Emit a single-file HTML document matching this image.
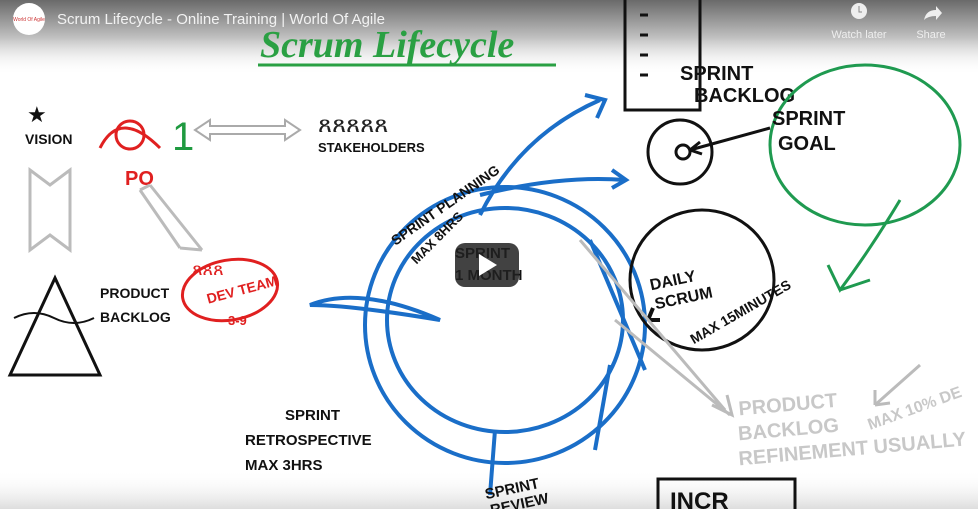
<!DOCTYPE html>
<html><head><style>
html,body{margin:0;padding:0;width:978px;height:509px;overflow:hidden;background:#fff}
svg{display:block}
.h{font-family:"Liberation Sans",sans-serif;font-weight:bold}
</style></head><body>
<svg width="978" height="509" viewBox="0 0 978 509" xmlns="http://www.w3.org/2000/svg">
<defs>
<linearGradient id="tg" x1="0" y1="0" x2="0" y2="1"><stop offset="0" stop-color="#6a6a6a"/><stop offset="0.5" stop-color="#c0c0c0"/><stop offset="1" stop-color="#fff" stop-opacity="0"/></linearGradient>
<linearGradient id="bg" x1="0" y1="0" x2="0" y2="1"><stop offset="0" stop-color="#fff" stop-opacity="0"/><stop offset="1" stop-color="#ddd"/></linearGradient>
</defs>
<rect width="978" height="509" fill="#fff"/>
<rect width="978" height="75" fill="url(#tg)"/>
<rect y="470" width="978" height="39" fill="url(#bg)"/>
<circle cx="29" cy="19" r="16" fill="#fff"/>
<text x="29" y="21" font-size="5" fill="#c33" text-anchor="middle" font-family="Liberation Sans">World Of Agile</text>
<text x="57" y="24" font-size="15" fill="#f2f2f2" font-family="Liberation Sans,sans-serif">Scrum Lifecycle - Online Training | World Of Agile</text>
<circle cx="859" cy="11" r="8" fill="#eee"/><path d="M859 6v6h3" stroke="#888" fill="none"/>
<text x="859" y="38" font-size="11" fill="#eee" text-anchor="middle" font-family="Liberation Sans">Watch later</text>
<path d="M924 20q2-10 12-10v-4l6 7-6 7v-4q-8 0-12 4z" fill="#eee"/>
<text x="931" y="38" font-size="11" fill="#eee" text-anchor="middle" font-family="Liberation Sans">Share</text>
<text x="260" y="57" font-size="38" fill="#2aa043" font-style="italic" font-weight="bold" font-family="Liberation Serif,serif">Scrum Lifecycle</text>
<line x1="258" y1="65" x2="556" y2="65" stroke="#2aa043" stroke-width="3"/>
<text x="27" y="122" font-size="22" fill="#111">★</text>
<text x="25" y="144" font-size="14" class="h" fill="#111">VISION</text>
<circle cx="130" cy="135" r="14" fill="none" stroke="#e02020" stroke-width="3"/>
<path d="M100 148q20-40 60 0" fill="none" stroke="#e02020" stroke-width="3"/>
<text x="172" y="150" font-size="40" fill="#1f9a40" font-family="Liberation Sans">1</text>
<text x="125" y="185" font-size="20" class="h" fill="#e02020">PO</text>
<path d="M195 130l15-10v6h75v-6l15 10-15 10v-6h-75v6z" fill="none" stroke="#aaa" stroke-width="2"/>
<text x="318" y="132" font-size="24" fill="#222" font-family="Liberation Sans">ጸጸጸጸጸ</text>
<text x="318" y="152" font-size="13" class="h" fill="#111">STAKEHOLDERS</text>
<path d="M30 170l20 15 20-15v80l-20-15-20 15z" fill="none" stroke="#bbb" stroke-width="3"/>
<path d="M10 375L55 278L100 375z" fill="none" stroke="#111" stroke-width="3"/>
<path d="M14 318q20-10 40 0t40 0" fill="none" stroke="#111" stroke-width="2"/>
<text x="100" y="298" font-size="14" class="h" fill="#111">PRODUCT</text>
<text x="100" y="322" font-size="14" class="h" fill="#111">BACKLOG</text>
<path d="M140 190l40 58M150 185l52 65M140 190l10-5M202 250l-22-2" fill="none" stroke="#bbb" stroke-width="3"/>
<ellipse cx="230" cy="290" rx="48" ry="30" fill="none" stroke="#e02020" stroke-width="3" transform="rotate(-10 230 290)"/>
<text x="192" y="275" font-size="18" fill="#e02020" font-family="Liberation Sans">ጸጸጸ</text>
<text x="208" y="298" font-size="14" class="h" fill="#e02020" transform="rotate(-15 230 300)">DEV TEAM</text>
<text x="228" y="325" font-size="13" class="h" fill="#e02020">3-9</text>
<g fill="none" stroke="#1a6ec8" stroke-width="4">
<ellipse cx="505" cy="325" rx="140" ry="138"/>
<ellipse cx="505" cy="320" rx="118" ry="112"/>
<path d="M480 215q40-80 120-115"/>
<path d="M585 95l20 5-8 18"/>
<path d="M480 195q80-20 145-15"/>
<path d="M612 170l14 10-14 8"/>
<path d="M440 320q-80-35-130-15 40 0 130 15z"/>
<path d="M590 240l55 130M610 365l-15 85M495 430l-5 65"/>
</g>
<text x="370" y="235" font-size="14" class="h" fill="#111" transform="rotate(-35 400 200)">SPRINT PLANNING</text>
<text x="400" y="255" font-size="13" class="h" fill="#111" transform="rotate(-45 420 240)">MAX 8HRS</text>
<text x="455" y="258" font-size="15" class="h" fill="#111">SPRINT</text>
<text x="455" y="280" font-size="15" class="h" fill="#111">1 MONTH</text>
<rect x="455" y="243" width="64" height="44" rx="10" fill="#212121" opacity="0.85"/>
<path d="M479 254l18 11-18 11z" fill="#fff"/>
<g stroke="#111" stroke-width="3" fill="none">
<path d="M625 0v110h75V0"/>
<path d="M640 15h8M640 35h8M640 55h8M640 75h8"/>
<circle cx="680" cy="152" r="32"/><circle cx="683" cy="152" r="7"/>
<path d="M690 150l80-22M690 150l10-8M690 150l12 4"/>
</g>
<text x="680" y="80" font-size="20" class="h" fill="#111">SPRINT</text>
<text x="694" y="102" font-size="20" class="h" fill="#111">BACKLOG</text>
<ellipse cx="865" cy="145" rx="95" ry="80" fill="none" stroke="#1f9a50" stroke-width="3"/>
<path d="M900 200q-30 50-60 90l-12-25M840 290l30-10" fill="none" stroke="#1f9a50" stroke-width="3"/>
<text x="772" y="125" font-size="20" class="h" fill="#111">SPRINT</text>
<text x="778" y="150" font-size="20" class="h" fill="#111">GOAL</text>
<ellipse cx="702" cy="280" rx="72" ry="70" fill="none" stroke="#111" stroke-width="3"/>
<path d="M648 320l12 0M648 320l5-12" stroke="#111" stroke-width="4"/>
<text x="650" y="280" font-size="16" class="h" fill="#111" transform="rotate(-12 700 280)">DAILY</text>
<text x="655" y="300" font-size="16" class="h" fill="#111" transform="rotate(-12 700 300)">SCRUM</text>
<text x="685" y="328" font-size="14" class="h" fill="#111" transform="rotate(-30 720 320)">MAX 15MINUTES</text>
<g stroke="#bbb" stroke-width="3" fill="none">
<path d="M580 240l145 170M615 320l115 95M712 405l20 10-5-20"/>
<path d="M920 365l-45 40M875 405l0-15M875 405l15-2"/>
</g>
<text x="738" y="410" font-size="20" class="h" fill="#c8c8c8" transform="rotate(-5 800 400)">PRODUCT</text>
<text x="738" y="435" font-size="20" class="h" fill="#c8c8c8" transform="rotate(-5 800 430)">BACKLOG</text>
<text x="738" y="460" font-size="20" class="h" fill="#c8c8c8" transform="rotate(-5 800 450)">REFINEMENT USUALLY</text>
<text x="870" y="430" font-size="16" class="h" fill="#c8c8c8" transform="rotate(-20 870 430)">MAX 10% DE</text>
<text x="285" y="420" font-size="15" class="h" fill="#111">SPRINT</text>
<text x="245" y="445" font-size="15" class="h" fill="#111">RETROSPECTIVE</text>
<text x="245" y="470" font-size="15" class="h" fill="#111">MAX 3HRS</text>
<text x="485" y="492" font-size="15" class="h" fill="#111" transform="rotate(-12 520 490)">SPRINT</text>
<text x="490" y="509" font-size="15" class="h" fill="#111" transform="rotate(-12 520 505)">REVIEW</text>
<path d="M658 509v-30h137v30" fill="none" stroke="#111" stroke-width="3"/>
<text x="670" y="509" font-size="24" class="h" fill="#111">INCR</text>
</svg>
</body></html>
